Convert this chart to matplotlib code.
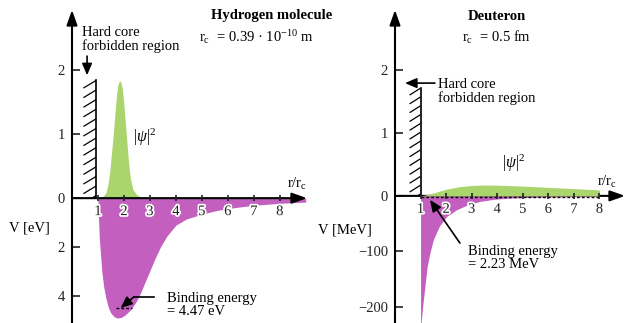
import numpy as np
import matplotlib
matplotlib.use("Agg")
import matplotlib.pyplot as plt
import matplotlib.patheffects as pe

plt.rcParams['font.family'] = 'serif'
plt.rcParams['font.serif'] = ['Liberation Serif', 'DejaVu Serif']
plt.rcParams['mathtext.fontset'] = 'custom'
plt.rcParams['mathtext.rm'] = 'Liberation Serif'
plt.rcParams['mathtext.it'] = 'Liberation Serif:italic'
plt.rcParams['mathtext.bf'] = 'Liberation Serif:bold'

# ---------------- data ----------------
# Hydrogen molecule
h2_r_psi = [1.05, 1.20, 1.30, 1.38, 1.45, 1.52, 1.58, 1.64, 1.70, 1.76, 1.82, 1.88,
            1.94, 2.00, 2.06, 2.12, 2.18, 2.25, 2.35, 2.50, 2.70, 2.85]
h2_psi2 = [0, 0.03, 0.08, 0.20, 0.40, 0.70, 0.95, 1.25, 1.55, 1.76, 1.83, 1.82,
           1.70, 1.45, 1.15, 0.85, 0.55, 0.30, 0.13, 0.05, 0.01, 0]
h2_r_V = [1.00, 1.02, 1.05, 1.10, 1.15, 1.22, 1.30, 1.40, 1.50, 1.62, 1.75, 1.90,
          2.05, 2.25, 2.45, 2.60, 2.80, 3.00, 3.20, 3.40, 3.65, 4.00, 4.40, 5.00,
          5.50, 6.00, 7.00, 8.00, 9.00]
h2_V = [0, -0.8, -1.6, -2.3, -3.0, -3.6, -4.05, -4.45, -4.68, -4.82, -4.88, -4.85,
        -4.75, -4.55, -4.25, -3.95, -3.45, -2.95, -2.45, -2.0, -1.55, -1.1, -0.85,
        -0.65, -0.52, -0.42, -0.29, -0.21, -0.16]
h2_binding = -4.47

# Deuteron
d_r_psi = [1.00, 1.25, 1.50, 1.75, 2.00, 2.50, 3.00, 3.50, 4.00, 5.00, 6.00, 7.00, 8.00]
d_psi2 = [0, 0.02, 0.045, 0.075, 0.105, 0.145, 0.165, 0.172, 0.17, 0.155, 0.135, 0.115, 0.095]
d_r_V = [1.00, 1.08, 1.17, 1.26, 1.37, 1.50, 1.73, 2.02, 2.41, 2.85, 3.32, 3.90,
         4.50, 5.00, 6.00, 7.00, 8.00]
d_V = [-240, -200, -163, -127, -102, -79, -55, -37, -25, -16, -10, -6,
       -4, -3, -2, -1.5, -1.2]
d_binding = -2.23

x_ticks = [1, 2, 3, 4, 5, 6, 7, 8]
h2_yticks = [-4, -2, 0, 1, 2]
h2_yticklabels = ['4', '2', '0', '1', '2']
d_yticks = [-200, -100, 0, 1, 2]
d_yticklabels = ['\u2212200', '\u2212100', '0', '1', '2']

GREEN = '#aad46c'
PURPLE = '#c25fbf'
FS = 10.5

fig = plt.figure(figsize=(6.27, 3.23), dpi=100)
W, H = 627, 323


def make_scale(k):
    def fwd(y):
        y = np.asarray(y, dtype=float)
        return np.where(y >= 0, y, y * k)

    def inv(y):
        y = np.asarray(y, dtype=float)
        return np.where(y >= 0, y, y / k)
    return fwd, inv


def setup(ax, xmax, ylo, yhi, k, yticks, ylabels):
    ax.set_yscale('function', functions=make_scale(k))
    ax.set_xlim(0, xmax)
    ax.set_ylim(ylo, yhi)
    for s in ['top', 'right']:
        ax.spines[s].set_visible(False)
    ax.spines['left'].set_position(('data', 0))
    ax.spines['bottom'].set_position(('data', 0))
    ax.spines['left'].set_color('none')
    ax.spines['bottom'].set_color('none')
    ax.set_xticks(x_ticks)
    ax.set_xticklabels([str(t) for t in x_ticks])
    ax.set_yticks(yticks)
    ax.set_yticklabels(ylabels)
    ax.tick_params(axis='x', direction='inout', length=5, width=1.2, pad=2.5,
                   labelsize=10.5, colors='#222222')
    ax.tick_params(axis='y', direction='in', length=6, width=1.2, pad=5,
                   labelsize=FS, colors='#222222')
    for lab in ax.get_xticklabels():
        lab.set_path_effects([pe.withStroke(linewidth=2.5, foreground='white')])
    ax.xaxis.set_zorder(6)
    ax.patch.set_visible(False)
    arrow = dict(arrowstyle='-|>,head_length=0.9,head_width=0.32', color='black',
                 lw=1.5, shrinkA=0, shrinkB=0, mutation_scale=10)
    ax.annotate('', xy=(xmax, 0), xytext=(0, 0), arrowprops=arrow,
                annotation_clip=False, zorder=3)
    ax.annotate('', xy=(0, yhi), xytext=(0, ylo), arrowprops=arrow,
                annotation_clip=False, zorder=3)


def hatch(ax, xr, top, spacing, dx, dy):
    ax.plot([xr, xr], [0, top], color='black', lw=1.2, zorder=3)
    for ye in np.arange(top, 0, -spacing):
        ys = max(ye - dy, 0)
        xs = xr - dx * (ye - ys) / dy
        ax.plot([xs, xr], [ys, ye], color='black', lw=0.9, zorder=3,
                solid_capstyle='butt')


small_arrow = dict(arrowstyle='-|>,head_length=0.7,head_width=0.3',
                   color='black', lw=1.2, shrinkA=0, shrinkB=0, mutation_scale=10)

# ---------------- left panel: hydrogen molecule ----------------
axL = fig.add_axes([72 / W, 0, 235 / W, 313 / H])
setup(axL, 9.05, -5.08, 2.94, 0.384, h2_yticks, h2_yticklabels)
axL.fill_between(h2_r_V, h2_V, 0, color=PURPLE, lw=0, zorder=1)
axL.fill_between(h2_r_psi, 0, h2_psi2, color=GREEN, lw=0, zorder=1)
hatch(axL, 0.93, 1.84, 0.15, 0.49, 0.12)
axL.plot([1.68, 2.3], [h2_binding, h2_binding], color='black', lw=1.0,
         ls=(0, (2, 1.5)), zorder=4)

axL.text(0.38, 2.48, 'Hard core\nforbidden region', fontsize=FS, ha='left',
         va='center', linespacing=1.05)
axL.annotate('', xy=(0.58, 1.92), xytext=(0.58, 2.22), arrowprops=small_arrow,
             annotation_clip=False)
axL.text(7.7, 2.86, 'Hydrogen molecule', fontsize=FS, fontweight='bold',
         ha='center', va='center')
axL.text(7.1, 2.52, r'r$_\mathrm{c}$  = 0.39 · 10$^{-10}$ m', fontsize=FS,
         ha='center', va='center')
axL.text(2.35, 0.95, r'|$\psi$|$^2$', fontsize=11.5, ha='left', va='center')
axL.text(8.27, 0.22, r'r/r$_\mathrm{c}$', fontsize=FS, ha='left', va='center')
axL.text(-1.65, -1.22, 'V [eV]', fontsize=FS, ha='center', va='center')
axL.text(3.65, -4.35, 'Binding energy\n= 4.47 eV', fontsize=FS, ha='left',
         va='center', linespacing=1.05)
axL.plot([3.15, 2.38], [-4.02, -4.02], color='black', lw=1.2, zorder=5)
axL.annotate('', xy=(1.87, h2_binding), xytext=(2.38, -4.02),
             arrowprops=small_arrow, zorder=5)

# ---------------- right panel: deuteron ----------------
axR = fig.add_axes([395 / W, 0, 230 / W, 313 / H])
setup(axR, 9.0, -229, 2.95, 0.00881, d_yticks, d_yticklabels)
axR.fill_between(d_r_V, d_V, 0, color=PURPLE, lw=0, zorder=4)
axR.fill_between(d_r_psi, 0, d_psi2, color=GREEN, lw=0, zorder=4)
hatch(axR, 1.0, 1.71, 0.14, 0.43, 0.11)
axR.plot([1.0, 8.0], [d_binding, d_binding], color='black', lw=1.0,
         ls=(0, (2, 1.5)), zorder=5)

axR.text(3.98, 2.84, 'Deuteron', fontsize=FS, fontweight='bold',
         ha='center', va='center')
axR.text(3.98, 2.52, r'r$_\mathrm{c}$  = 0.5 fm', fontsize=FS,
         ha='center', va='center')
axR.text(1.68, 1.66, 'Hard core\nforbidden region', fontsize=FS, ha='left',
         va='center', linespacing=1.05)
axR.annotate('', xy=(0.39, 1.79), xytext=(1.56, 1.79), arrowprops=small_arrow,
             annotation_clip=False)
axR.text(4.18, 0.52, r'|$\psi$|$^2$', fontsize=11.5, ha='left', va='center')
axR.text(7.9, 0.22, r'r/r$_\mathrm{c}$', fontsize=FS, ha='left', va='center')
axR.text(-1.95, -61, 'V [MeV]', fontsize=FS, ha='center', va='center')
axR.text(2.85, -112, 'Binding energy\n= 2.23 MeV', fontsize=FS, ha='left',
         va='center', linespacing=1.05)
axR.annotate('', xy=(1.37, -7.2), xytext=(2.54, -85),
             arrowprops=small_arrow, zorder=6)

fig.savefig('out.png', dpi=100)
